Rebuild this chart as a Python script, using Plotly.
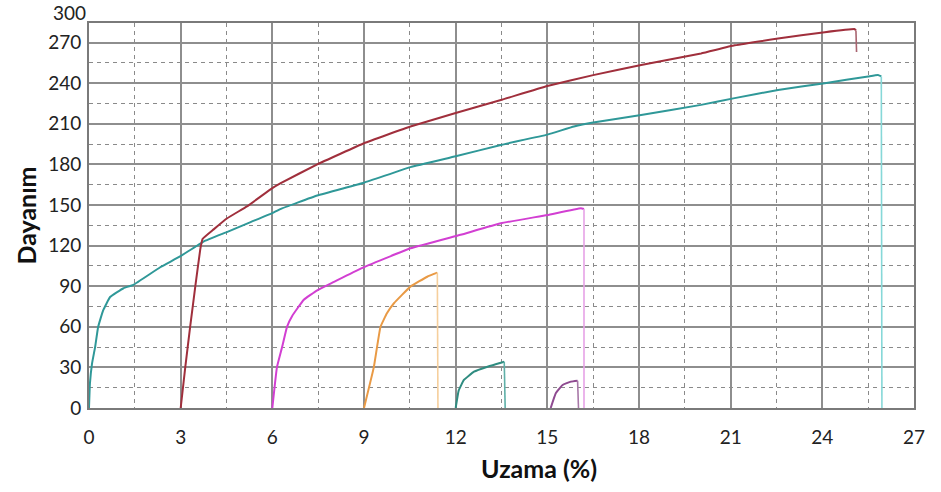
import plotly.graph_objects as go

# ---- data ----
x_teal = [0, 0.03, 0.1, 0.2, 0.3, 0.46, 0.69, 1.13, 1.45, 2.33, 2.98, 3.75, 4.51, 5.25, 6.0,
          6.26, 7.47, 9.0, 10.52, 12.0, 13.48, 15.0, 15.87, 16.5, 18.07, 20.03, 21.13, 22.55,
          24.08, 25.5, 25.82, 25.93, 25.95]
y_teal = [0, 18, 33, 45, 60, 72, 82, 88.5, 91, 104, 112, 123, 130, 137, 144,
          147, 157, 166.5, 178, 186, 194.4, 202, 208, 211, 216.5, 224, 229, 235,
          240, 245, 246, 245, 0]

x_red = [3.0, 3.15, 3.31, 3.48, 3.64, 3.72, 4.08, 4.51, 5.17, 6.0, 6.26, 7.47, 9.0, 10.52,
         12.0, 13.48, 15.0, 16.5, 18.07, 20.03, 21.13, 22.55, 24.08, 25.06, 25.1, 25.12]
y_red = [0, 30, 60, 90, 117, 125, 132, 140, 149, 162.5, 166, 180, 195.6, 208,
         218, 227.6, 238, 246, 253.5, 262, 268, 273, 277.7, 280, 279, 263]

x_magenta = [6.0, 6.15, 6.32, 6.48, 6.65, 7.03, 7.47, 8.0, 8.89, 10.52, 12.16, 13.48, 15.0,
             16.1, 16.2, 16.2]
y_magenta = [0, 30, 45, 60, 68, 80, 87, 93, 103, 118, 128, 136.5, 142.6,
             147.6, 147, 0]

x_orange = [9.0, 9.32, 9.54, 9.75, 9.98, 10.52, 11.07, 11.4, 11.42]
y_orange = [0, 30, 60, 70, 77.4, 89.7, 97, 100, 0]

x_teal2 = [12.0, 12.1, 12.27, 12.6, 13.04, 13.48, 13.59, 13.62]
y_teal2 = [0, 13, 20.7, 26.8, 30.5, 33.5, 34.2, 0]

x_purple = [15.11, 15.28, 15.5, 15.77, 15.99, 16.02]
y_purple = [0, 11, 17, 19.5, 20.2, 0]

x_ticks = [0, 3, 6, 9, 12, 15, 18, 21, 24, 27]
y_ticks = [0, 30, 60, 90, 120, 150, 180, 210, 240, 270]

# (x, y, curve colour, break/drop colour)
series = [
    (x_teal, y_teal, "#2f9898", "#86d8d8"),
    (x_red, y_red, "#a02f3c", "#a86470"),
    (x_magenta, y_magenta, "#d23fd2", "#e6a2e6"),
    (x_orange, y_orange, "#e99a45", "#f6cf9c"),
    (x_teal2, y_teal2, "#2f8c80", "#5fb0a8"),
    (x_purple, y_purple, "#8e4a90", "#a878a8"),
]

fig = go.Figure()
for xs, ys, col, dcol in series:
    fig.add_trace(go.Scatter(x=xs[:-1], y=ys[:-1], mode="lines",
                             line=dict(color=col, width=2, shape="spline", smoothing=0.3),
                             showlegend=False, hoverinfo="skip"))
    fig.add_trace(go.Scatter(x=xs[-2:], y=ys[-2:], mode="lines",
                             line=dict(color=dcol, width=1.6),
                             showlegend=False, hoverinfo="skip"))

font_family = "Lato, Open Sans, sans-serif"
major = "#8e8e8e"
minor = "#8a8a8a"

fig.update_xaxes(
    range=[0, 27], tickvals=x_ticks, ticktext=[str(v) for v in x_ticks],
    showgrid=True, gridcolor=major, gridwidth=2,
    minor=dict(dtick=1.5, tick0=0, showgrid=True, gridcolor=minor, gridwidth=1.3,
               griddash="4px,4px", ticks=""),
    showline=True, linecolor="#7a7a7a", linewidth=2, mirror=True,
    ticks="outside", ticklen=11, tickcolor="rgba(0,0,0,0)",
    tickfont=dict(family=font_family, size=19, color="#222"),
    zeroline=False,
)
fig.update_yaxes(
    range=[0, 284.5], tickvals=y_ticks, ticktext=[str(v) for v in y_ticks],
    showgrid=True, gridcolor=major, gridwidth=2,
    minor=dict(dtick=15, tick0=0, showgrid=True, gridcolor=minor, gridwidth=1.3,
               griddash="4px,4px", ticks=""),
    showline=True, linecolor="#7a7a7a", linewidth=2, mirror=True,
    ticks="", ticklabelstandoff=2,
    tickfont=dict(family=font_family, size=19, color="#222"),
    zeroline=False,
)

fig.update_layout(
    width=941, height=492,
    margin=dict(l=89, r=27, t=23, b=84),
    paper_bgcolor="white", plot_bgcolor="white",
    annotations=[
        dict(text="300", xref="paper", yref="paper", x=0, y=1, xanchor="right",
             yanchor="middle", xshift=-1, yshift=11, showarrow=False,
             font=dict(family=font_family, size=19, color="#222")),
        dict(text="<b>Uzama (%)</b>", xref="paper", yref="paper", x=0.546, y=0,
             xanchor="center", yanchor="middle", yshift=-60, showarrow=False,
             font=dict(family=font_family, size=25, color="#111")),
        dict(text="<b>Dayanım</b>", xref="paper", yref="paper", x=0, y=0.5,
             xanchor="center", yanchor="middle", xshift=-64, textangle=-90,
             showarrow=False, font=dict(family=font_family, size=25, color="#111")),
    ],
)

fig.write_html("out.html")
